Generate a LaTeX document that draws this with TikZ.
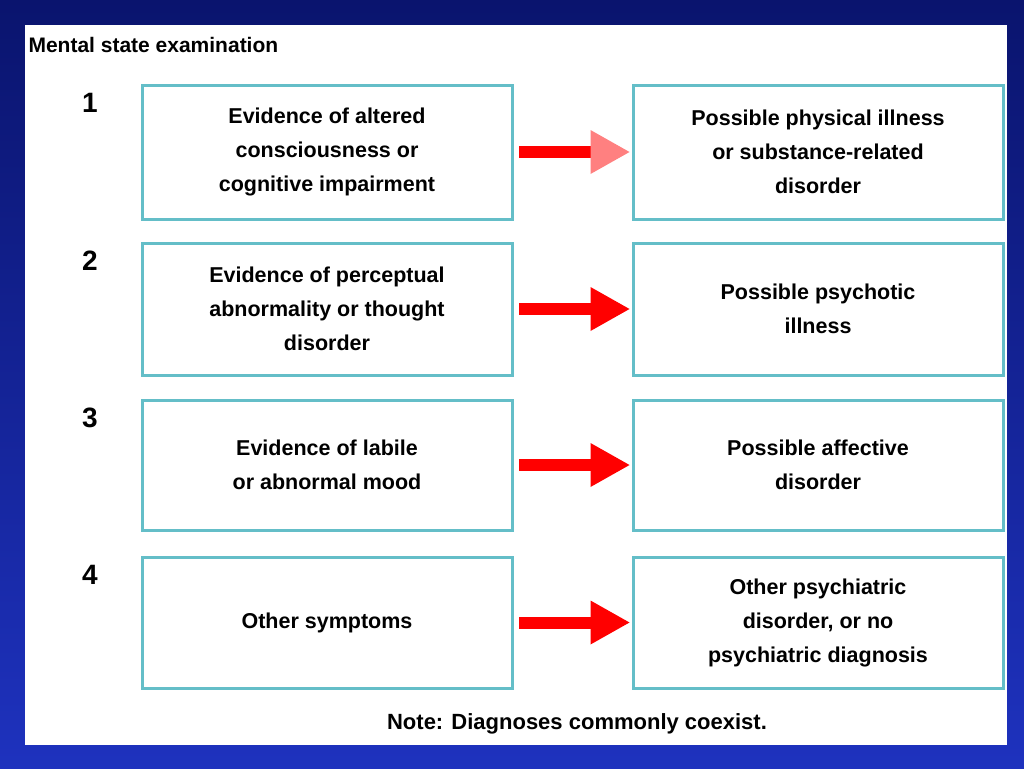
\documentclass[tikz,border=0pt]{standalone}
\usepackage{fontspec}
\setmainfont{Liberation Sans}
\begin{document}
\begin{tikzpicture}[x=1pt,y=-1pt,
  box/.style={draw=boxc,line width=3pt,minimum width=370pt,align=center,font=\bfseries\fontsize{21.5}{34}\selectfont,inner sep=0pt},
  num/.style={font=\bfseries\fontsize{28}{30}\selectfont}]
\definecolor{boxc}{RGB}{100,190,200}
\definecolor{bgA}{RGB}{10,20,110}
\definecolor{bgB}{RGB}{30,50,190}
\useasboundingbox (0,0) rectangle (1024,768);
\shade[top color=bgA,bottom color=bgB] (0,0) rectangle (1024,768);
\fill[white] (25,25) rectangle (1007,745);
\node[anchor=west,font=\bfseries\fontsize{21}{24}\selectfont] (title) at (25,45) {Mental state examination};
\foreach \i/\y/\h/\L/\R/\hc in {
 1/85/134/{Evidence of altered\\consciousness or\\cognitive impairment}/{Possible physical illness\\or substance-related\\disorder}/{red!50!white},
 2/243/132/{Evidence of perceptual\\abnormality or thought\\disorder}/{Possible psychotic\\illness}/red,
 3/400/130/{Evidence of labile\\or abnormal mood}/{Possible affective\\disorder}/red,
 4/557/131/{Other symptoms}/{Other psychiatric\\disorder, or no\\psychiatric diagnosis}/red}{
  \node[num] (n\i) at (90,\y+18) {\i};
  \node[box,minimum height=\h pt] (l\i) at (327,\y+\h/2) {\L};
  \node[box,minimum height=\h pt] (r\i) at (818,\y+\h/2) {\R};
  \fill[red] ([yshift=6]l\i.east) ++(5,0) rectangle ++(72,12);
  \fill[\hc] ([yshift=22]l\i.east) ++(77,0) -- ++(0,44) -- ([xshift=-2]r\i.west) -- cycle;
}
\node[font=\bfseries\fontsize{22}{24}\selectfont] (note) at (577,724) {Note: Diagnoses commonly coexist.};
\end{tikzpicture}
\end{document}
